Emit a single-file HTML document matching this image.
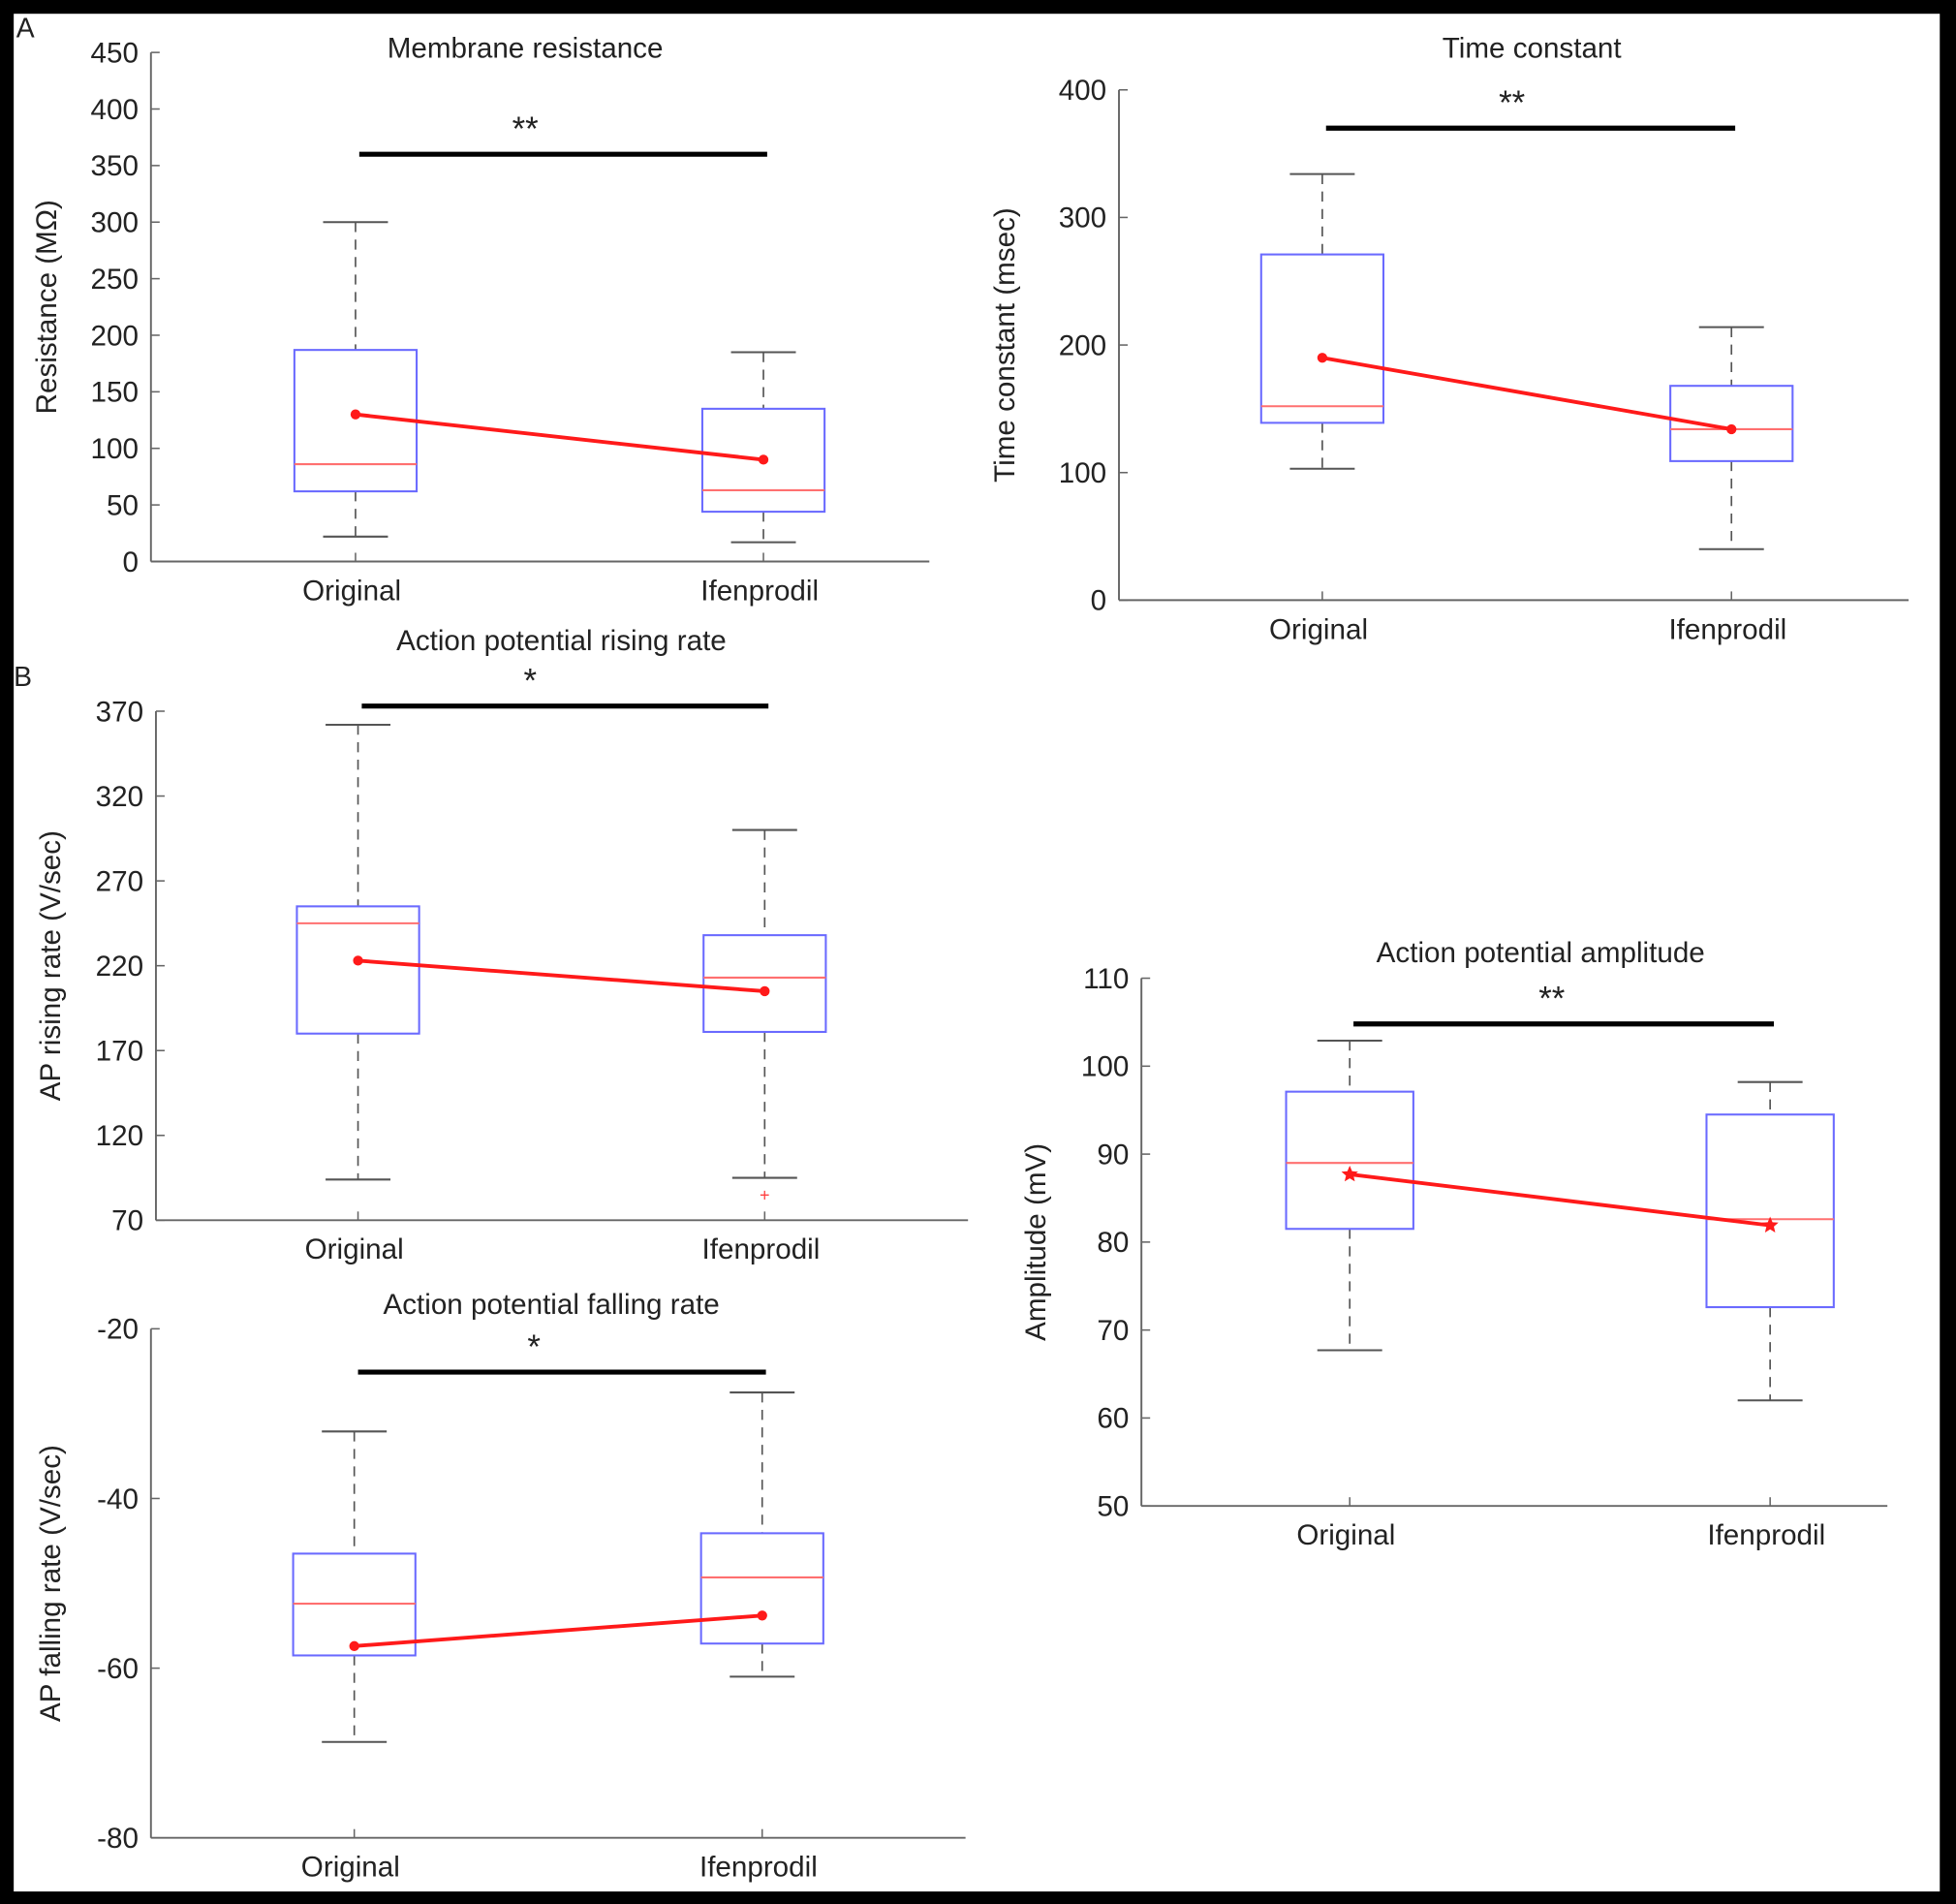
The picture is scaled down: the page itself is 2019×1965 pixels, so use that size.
<!DOCTYPE html>
<html><head><meta charset="utf-8"><style>
html,body{margin:0;padding:0;background:#000}
svg{display:block}
text{font-family:"Liberation Sans",Arial,sans-serif;fill:#222}
</style></head><body>
<svg id="fig" width="2019" height="1965" viewBox="0 0 1568 1526" xmlns="http://www.w3.org/2000/svg">
<rect x="0" y="0" width="1568" height="1526" fill="#000"/>
<rect x="11" y="11" width="1544" height="1505" fill="#fff"/>
<text x="13" y="30" font-size="22">A</text>
<text x="11" y="550" font-size="22">B</text>
</svg>
<script>
const categories = ["Original", "Ifenprodil"];

// Membrane resistance
const resTicks = [0,50,100,150,200,250,300,350,400,450];
const resQ1 = [62, 44], resQ3 = [187, 135], resMed = [86, 63];
const resLo = [22, 17], resHi = [300, 185], resMean = [130, 90];
const resSig = 360;

// Time constant
const tauTicks = [0,100,200,300,400];
const tauQ1 = [139, 109], tauQ3 = [271, 168], tauMed = [152, 134];
const tauLo = [103, 40], tauHi = [334, 214], tauMean = [190, 134];
const tauSig = 370;

// AP rising rate
const riseTicks = [70,120,170,220,270,320,370];
const riseQ1 = [180, 181], riseQ3 = [255, 238], riseMed = [245, 213];
const riseLo = [94, 95], riseHi = [362, 300], riseMean = [223, 205];
const riseOutliers = [[], [85]];
const riseSig = 373;

// AP falling rate
const fallTicks = [-80,-60,-40,-20];
const fallQ1 = [-58.5, -57.1], fallQ3 = [-46.5, -44.1], fallMed = [-52.4, -49.3];
const fallLo = [-68.7, -61.0], fallHi = [-32.1, -27.5], fallMean = [-57.4, -53.8];
const fallSig = -25.1;

// AP amplitude
const ampTicks = [50,60,70,80,90,100,110];
const ampQ1 = [81.5, 72.6], ampQ3 = [97.1, 94.5], ampMed = [89, 82.6];
const ampLo = [67.7, 62.0], ampHi = [102.9, 98.2], ampMean = [87.7, 81.9];
const ampSig = 104.8;

const NS = "http://www.w3.org/2000/svg";
const svg = document.getElementById('fig');
function mk(tag, attrs, parent){
  const e = document.createElementNS(NS, tag);
  for (const k in attrs) e.setAttribute(k, attrs[k]);
  (parent||svg).appendChild(e);
  return e;
}
function star(cx, cy, r){
  let p=[];
  for(let i=0;i<10;i++){const a=-Math.PI/2+i*Math.PI/5;const rr=i%2?r*0.45:r;p.push((cx+rr*Math.cos(a)).toFixed(1)+","+(cy+rr*Math.sin(a)).toFixed(1));}
  return p.join(" ");
}
function chart(o){
  const g = mk('g', {});
  
  
  const vmin = o.ticks[0], vmax = o.ticks[o.ticks.length-1];
  const y = v => o.y1 - (v - vmin) / (vmax - vmin) * (o.y1 - o.y0);
  const x = i => o.cx[i];
  const ya = mk('line', {x1:o.x0, y1:o.y0, x2:o.x0, y2:o.y1, stroke:'#666', 'stroke-width':1.5}, g);
  
  
  const xa = mk('line', {x1:o.x0, y1:o.y1, x2:o.xEnd, y2:o.y1, stroke:'#666', 'stroke-width':1.5}, g);
  
  
  o.ticks.forEach(t => {
    mk('line', {x1:o.x0, y1:y(t), x2:o.x0+7, y2:y(t), stroke:'#666', 'stroke-width':1.2}, g);
    const tl = mk('text', {x:o.x0-10, y:y(t)+8, 'font-size':23, 'text-anchor':'end'}, g);
    tl.textContent = t;
    
    
  });
  categories.forEach((c, i) => {
    mk('line', {x1:x(i), y1:o.y1, x2:x(i), y2:o.y1-7, stroke:'#666', 'stroke-width':1.2}, g);
    const cl = mk('text', {x:x(i)-3, y:o.y1+31, 'font-size':23, 'text-anchor':'middle'}, g);
    cl.textContent = c;
    
    
  });
  const yl = mk('text', {x:0, y:0, 'font-size':23, 'text-anchor':'middle', transform:`translate(${o.ylx},${(o.y0+o.y1)/2}) rotate(-90)`}, g);
  yl.textContent = o.ylabel;
  
  
  const tt = mk('text', {x:o.tx, y:o.ty, 'font-size':23, 'text-anchor':'middle'}, g);
  tt.textContent = o.title;
  
  
  const hw = o.hw, cw = 26;
  categories.forEach((c, i) => {
    const bg = mk('g', {}, g);
    
    
    mk('line', {x1:x(i), y1:y(o.hi[i]), x2:x(i), y2:y(o.q3[i]), stroke:'#555', 'stroke-width':1.3, 'stroke-dasharray':'8,6'}, bg);
    mk('line', {x1:x(i), y1:y(o.q1[i]), x2:x(i), y2:y(o.lo[i]), stroke:'#555', 'stroke-width':1.3, 'stroke-dasharray':'8,6'}, bg);
    mk('line', {x1:x(i)-cw, y1:y(o.hi[i]), x2:x(i)+cw, y2:y(o.hi[i]), stroke:'#555', 'stroke-width':1.6}, bg);
    mk('line', {x1:x(i)-cw, y1:y(o.lo[i]), x2:x(i)+cw, y2:y(o.lo[i]), stroke:'#555', 'stroke-width':1.6}, bg);
    mk('rect', {x:x(i)-hw, y:y(o.q3[i]), width:2*hw, height:y(o.q1[i])-y(o.q3[i]), fill:'none', stroke:'#6a6aff', 'stroke-width':1.6}, bg);
    mk('line', {x1:x(i)-hw, y1:y(o.med[i]), x2:x(i)+hw, y2:y(o.med[i]), stroke:'#ff7070', 'stroke-width':1.6}, bg);
    if (o.outliers) o.outliers[i].forEach(v => {
      const t = mk('text', {x:x(i), y:y(v)+5, 'font-size':14, 'text-anchor':'middle', style:'fill:#ff4040'}, bg);
      t.textContent = '+';
      
      
    });
  });
  const ml = mk('line', {x1:x(0), y1:y(o.mean[0]), x2:x(1), y2:y(o.mean[1]), stroke:'#ff1a1a', 'stroke-width':3}, g);
  
  
  categories.forEach((c, i) => {
    let m;
    if (o.starMarker) m = mk('polygon', {points:star(x(i), y(o.mean[i]), 7), fill:'#ff1a1a'}, g);
    else m = mk('circle', {cx:x(i), cy:y(o.mean[i]), r:4, fill:'#ff1a1a'}, g);
    
    
  });
  const sb = mk('line', {x1:x(0)+3, y1:y(o.sig), x2:x(1)+3, y2:y(o.sig), stroke:'#000', 'stroke-width':4}, g);
  
  
  const st = mk('text', {x:o.sx, y:y(o.sig)-11, 'font-size':27, 'text-anchor':'middle'}, g);
  st.textContent = o.stars;
  
  
}
chart({name:'membrane-resistance-chart', ticks:resTicks, q1:resQ1, q3:resQ3, med:resMed, lo:resLo, hi:resHi, mean:resMean, sig:resSig, stars:'**', sx:421,
  x0:121, xEnd:745, y0:42, y1:450, cx:[285,612], hw:49, ylx:45, ylabel:'Resistance (MΩ)', title:'Membrane resistance', tx:421, ty:46});
chart({name:'time-constant-chart', ticks:tauTicks, q1:tauQ1, q3:tauQ3, med:tauMed, lo:tauLo, hi:tauHi, mean:tauMean, sig:tauSig, stars:'**', sx:1212,
  x0:897, xEnd:1530, y0:72, y1:481, cx:[1060,1388], hw:49, ylx:813, ylabel:'Time constant (msec)', title:'Time constant', tx:1228, ty:46});
chart({name:'ap-rising-rate-chart', ticks:riseTicks, q1:riseQ1, q3:riseQ3, med:riseMed, lo:riseLo, hi:riseHi, mean:riseMean, sig:riseSig, stars:'*', sx:425, outliers:riseOutliers,
  x0:125, xEnd:776, y0:570, y1:978, cx:[287,613], hw:49, ylx:48, ylabel:'AP rising rate (V/sec)', title:'Action potential rising rate', tx:450, ty:521});
chart({name:'ap-falling-rate-chart', ticks:fallTicks, q1:fallQ1, q3:fallQ3, med:fallMed, lo:fallLo, hi:fallHi, mean:fallMean, sig:fallSig, stars:'*', sx:428,
  x0:121, xEnd:774, y0:1065, y1:1473, cx:[284,611], hw:49, ylx:48, ylabel:'AP falling rate (V/sec)', title:'Action potential falling rate', tx:442, ty:1053});
chart({name:'ap-amplitude-chart', ticks:ampTicks, q1:ampQ1, q3:ampQ3, med:ampMed, lo:ampLo, hi:ampHi, mean:ampMean, sig:ampSig, stars:'**', sx:1244, starMarker:true,
  x0:915, xEnd:1513, y0:784, y1:1207, cx:[1082,1419], hw:51, ylx:838, ylabel:'Amplitude (mV)', title:'Action potential amplitude', tx:1235, ty:771});
</script>
</body></html>
